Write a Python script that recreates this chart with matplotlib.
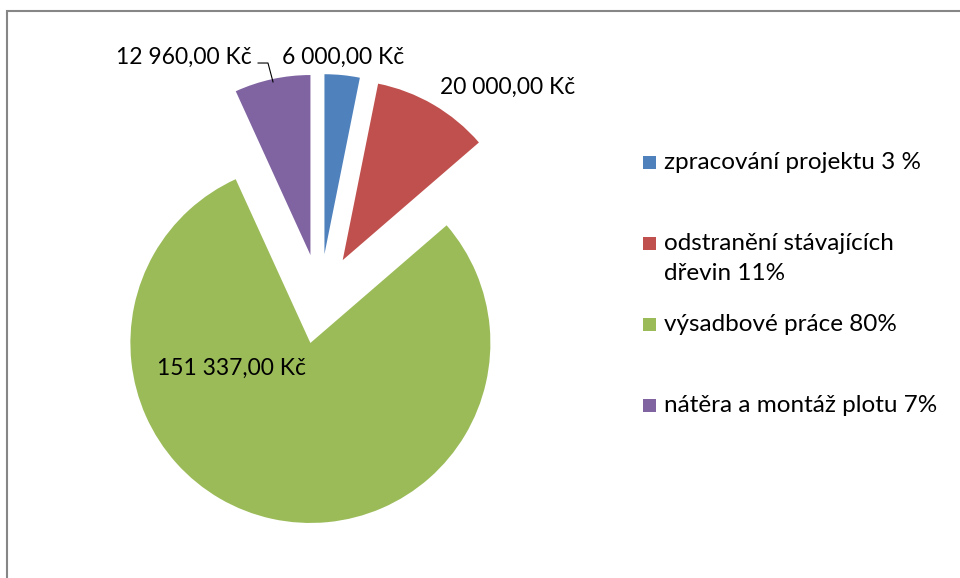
import matplotlib.pyplot as plt
from matplotlib.patches import Rectangle

plt.rcParams['font.family'] = ['Lato', 'DejaVu Sans']

# data
items = ["zpracování projektu 3 %",
         "odstranění stávajících\ndřevin 11%",
         "výsadbové práce 80%",
         "nátěra a montáž plotu 7%"]
costs = [6000, 20000, 151337, 12960]
cost_labels = ["6 000,00 Kč", "20 000,00 Kč", "151 337,00 Kč", "12 960,00 Kč"]
colors = ["#4F81BD", "#C0504D", "#9BBB59", "#8064A2"]

# label placement (pie data units) and alignment
label_pos = [(-0.21, 1.344, 'left'), (0.667, 1.178, 'left'),
             (-0.906, -0.383, 'left'), (-0.378, 1.344, 'right')]

W, H = 960, 578
fig = plt.figure(figsize=(W / 100, H / 100), dpi=100)

# pie axes: radius 180 px, centre at (320, 299) from the top
side = 540
ax = fig.add_axes([(320 - side / 2) / W, (H - 299 - side / 2) / H, side / W, side / H])
ax.pie(costs, colors=colors, startangle=90, counterclock=False,
       explode=[0.25] * len(costs), wedgeprops=dict(linewidth=0))
ax.set_xlim(-1.5, 1.5)
ax.set_ylim(-1.5, 1.5)
ax.set_aspect('equal')
ax.axis('off')

for lab, (x, y, ha) in zip(cost_labels, label_pos):
    ax.text(x, y, lab, ha=ha, va='center', fontsize=16.5, color='black')
# leader line for the purple slice label
ax.plot([-0.344, -0.289, -0.261], [1.311, 1.311, 1.206], color='black', lw=0.8)

# legend, Excel style (entries top-aligned on an even pitch)
for i, (txt, c) in enumerate(zip(items, colors)):
    yc = 162 + 81 * i
    fig.patches.append(Rectangle((643 / W, (H - yc - 6.5) / H), 13 / W, 13 / H,
                                 transform=fig.transFigure, color=c, lw=0))
    for k, line in enumerate(txt.split('\n')):
        fig.text(664 / W, (H - yc - 7 - 30 * k) / H, line, ha='left',
                 va='baseline', fontsize=17.5)

# chart frame
fig.patches.append(Rectangle((7 / W, -0.1), 1.2, (H - 11) / H + 0.1,
                             transform=fig.transFigure, fill=False,
                             edgecolor='#868686', lw=1.5))

fig.savefig('out.png', dpi=100)
